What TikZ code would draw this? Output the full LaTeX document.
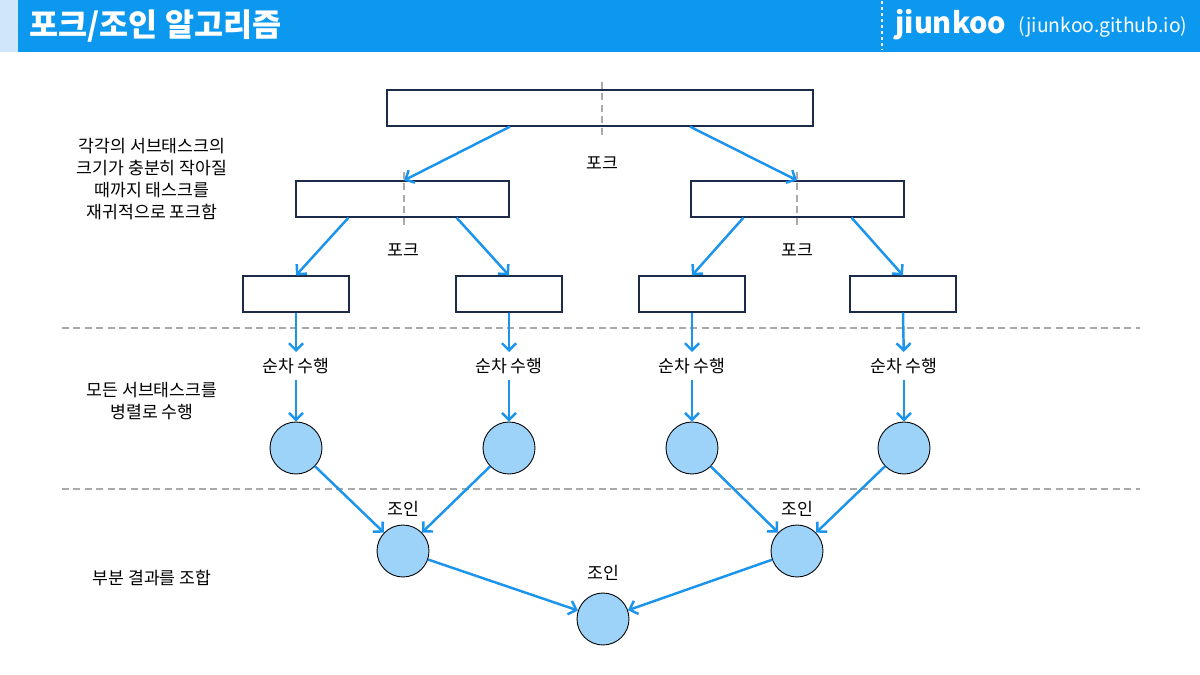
\documentclass[tikz,border=0pt]{standalone}
\usepackage{fontspec}
\setmainfont{Noto Sans CJK KR}
\usetikzlibrary{arrows.meta}
\definecolor{hdrblue}{HTML}{0C98EE}
\definecolor{hdrlight}{HTML}{CFE7F9}
\definecolor{arrblue}{HTML}{1A94EC}
\definecolor{circfill}{HTML}{9DD3F8}
\definecolor{boxline}{HTML}{1C2B4A}
\definecolor{guide}{HTML}{AAAAAA}
\tikzstyle{taskbox}=[draw=boxline, line width=0.7pt, fill=white, minimum height=0.72cm, inner sep=0]
\tikzstyle{result}=[circle, draw=black, line width=0.5pt, fill=circfill, minimum size=1.04cm, inner sep=0]
\tikzstyle{flow}=[draw=arrblue, line width=1.4pt, -{Straight Barb[length=4pt,width=8pt]}]
\tikzstyle{guideline}=[draw=guide, line width=0.8pt, dash pattern=on 4pt off 2.5pt]
\tikzstyle{note}=[font=\fontsize{9.8}{12.5}\selectfont, align=center]

\begin{document}
\begin{tikzpicture}[x=0.02cm, y=-0.02cm]
	\useasboundingbox (0,0) rectangle (1200,675);

	% header
	\fill[hdrlight] (0,0) rectangle (18,52);
	\fill[hdrblue] (18,0) rectangle (1200,52);
	\draw[white, line width=1.6pt, dash pattern=on 1.7pt off 1.7pt] (882,1) -- (882,49);
	\node[anchor=west, text=white, font=\bfseries\fontsize{18}{20}\selectfont] (title) at (23,26) {포크/조인 알고리즘};
	\node[anchor=west, text=white, font=\bfseries\fontsize{16.5}{20}\selectfont, inner sep=0] (brand) at (895,25) {jiunkoo};
	\node[anchor=west, text=white, font=\fontsize{11}{13}\selectfont, inner sep=0] (site) at (1018,27) {(jiunkoo.github.io)};

	% fork
	\node[taskbox, minimum width=8.52cm] (top) at (600,108) {};
	\node[taskbox, minimum width=4.26cm] (l2a) at (402.5,199) {};
	\node[taskbox, minimum width=4.26cm] (l2b) at (797.5,199) {};
	\node[taskbox, minimum width=2.12cm] (l3a) at (296,294) {};
	\node[taskbox, minimum width=2.12cm] (l3b) at (509,294) {};
	\node[taskbox, minimum width=2.12cm] (l3c) at (692,294) {};
	\node[taskbox, minimum width=2.12cm] (l3d) at (903,294) {};

	\draw[guideline] (602,82) -- (602,135);
	\draw[guideline] (404,172) -- (404,228);
	\draw[guideline] (797,172) -- (797,228);

	\node[note] (fk1) at (602,163) {포크};
	\node[note] (fk2) at (403,250) {포크};
	\node[note] (fk3) at (797,250) {포크};

	\draw[flow] ([xshift=-1.8cm]top.south) -- ([xshift=0.03cm]l2a.north);
	\draw[flow] ([xshift=1.8cm]top.south) -- ([xshift=-0.01cm]l2b.north);
	\draw[flow] ([xshift=-1.08cm]l2a.south) -- (l3a.north);
	\draw[flow] ([xshift=1.08cm]l2a.south) -- (l3b.north);
	\draw[flow] ([xshift=-1.08cm]l2b.south) -- (l3c.north);
	\draw[flow] ([xshift=1.08cm]l2b.south) -- (l3d.north);

	\draw[guideline] (62,328) -- (1140,328);
	\draw[guideline] (62,489) -- (1140,489);

	% parallel
	\foreach \i/\x in {a/296, b/509, c/692, d/904} {
		\node[note] (seq\i) at (\x,366) {순차 수행};
		\node[result] (c\i) at (\x,448) {};
		\draw[flow] (l3\i.south) -- (seq\i);
		\draw[flow] (seq\i) -- (c\i);
	}

	% join
	\node[result, label={[note, label distance=1pt]above:{조인}}] (j1) at (403,551) {};
	\node[result, label={[note, label distance=1pt]above:{조인}}] (j2) at (797,551) {};
	\node[result, label={[note, label distance=3.5pt]above:{조인}}] (fin) at (603,619) {};

	\draw[flow] (ca) -- (j1);
	\draw[flow] (cb) -- (j1);
	\draw[flow] (cc) -- (j2);
	\draw[flow] (cd) -- (j2);
	\draw[flow] (j1) -- (fin);
	\draw[flow] (j2) -- (fin);

	% side notes
	\node[note] (n1) at (152,179) {각각의 서브태스크의\\크기가 충분히 작아질\\때까지 태스크를\\재귀적으로 포크함};
	\node[note] (n2) at (152,401) {모든 서브태스크를\\병렬로 수행};
	\node[note] (n3) at (152,578) {부분 결과를 조합};
\end{tikzpicture}
\end{document}
